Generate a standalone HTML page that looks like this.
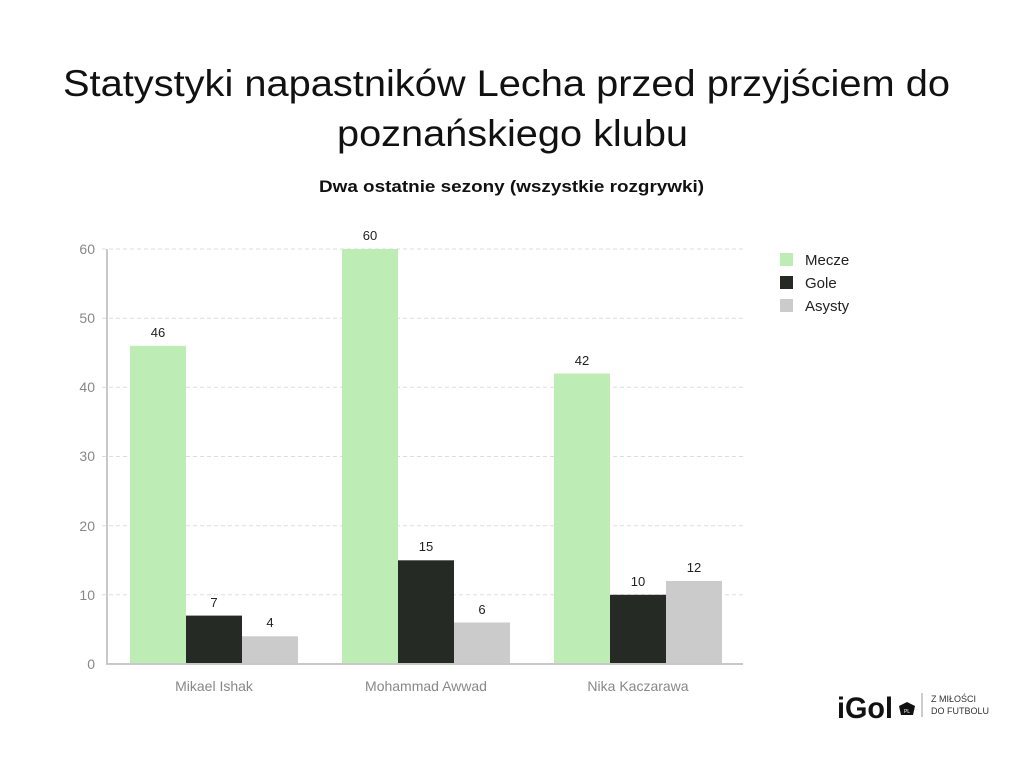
<!DOCTYPE html>
<html><head><meta charset="utf-8"><style>
body{margin:0;background:#fff;width:1024px;height:768px;overflow:hidden;font-family:"Liberation Sans",sans-serif}
</style></head><body>
<svg width="1024" height="768" xmlns="http://www.w3.org/2000/svg" font-family="Liberation Sans, sans-serif">
<text x="63" y="96" font-size="37" fill="#111" textLength="887" lengthAdjust="spacingAndGlyphs">Statystyki napastników Lecha przed przyjściem do</text>
<text x="337" y="146" font-size="37" fill="#111" textLength="351" lengthAdjust="spacingAndGlyphs">poznańskiego klubu</text>
<text x="319" y="192" font-size="17" font-weight="bold" fill="#111" textLength="385" lengthAdjust="spacingAndGlyphs">Dwa ostatnie sezony (wszystkie rozgrywki)</text>
<g stroke="#ddd" stroke-dasharray="4,3">
<line x1="102" x2="743" y1="249" y2="249"/><line x1="102" x2="743" y1="318.2" y2="318.2"/><line x1="102" x2="743" y1="387.3" y2="387.3"/><line x1="102" x2="743" y1="456.5" y2="456.5"/><line x1="102" x2="743" y1="525.7" y2="525.7"/><line x1="102" x2="743" y1="594.8" y2="594.8"/>
</g>
<g fill="#888" font-size="14" text-anchor="end">
<text x="95" y="254">60</text><text x="95" y="323">50</text><text x="95" y="392">40</text><text x="95" y="461">30</text><text x="95" y="531">20</text><text x="95" y="600">10</text><text x="95" y="669">0</text>
</g>
<g fill="#bdedb4"><rect x="130" y="345.8" width="56" height="318.2"/><rect x="342" y="249" width="56" height="415"/><rect x="554" y="373.5" width="56" height="290.5"/></g>
<g fill="#262a25"><rect x="186" y="615.6" width="56" height="48.4"/><rect x="398" y="560.3" width="56" height="103.7"/><rect x="610" y="594.8" width="56" height="69.2"/></g>
<g fill="#cbcbcb"><rect x="242" y="636.3" width="56" height="27.7"/><rect x="454" y="622.5" width="56" height="41.5"/><rect x="666" y="581" width="56" height="83"/></g>
<line x1="107" y1="249" x2="107" y2="665" stroke="#c8c8c8" stroke-width="2"/>
<line x1="106" y1="664" x2="743" y2="664" stroke="#c8c8c8" stroke-width="2"/>
<g font-size="13" fill="#222" text-anchor="middle">
<text x="158" y="337">46</text><text x="214" y="607">7</text><text x="270" y="627">4</text>
<text x="370" y="240">60</text><text x="426" y="551">15</text><text x="482" y="614">6</text>
<text x="582" y="365">42</text><text x="638" y="586">10</text><text x="694" y="572">12</text>
</g>
<g font-size="14" fill="#888" text-anchor="middle">
<text x="214" y="691">Mikael Ishak</text><text x="426" y="691">Mohammad Awwad</text><text x="638" y="691">Nika Kaczarawa</text>
</g>
<rect x="780" y="253" width="13" height="13" fill="#bdedb4"/><text x="805" y="265" font-size="15" fill="#222">Mecze</text>
<rect x="780" y="276" width="13" height="13" fill="#262a25"/><text x="805" y="288" font-size="15" fill="#222">Gole</text>
<rect x="780" y="299" width="13" height="13" fill="#cbcbcb"/><text x="805" y="311" font-size="15" fill="#222">Asysty</text>
<text x="837" y="718" font-size="30" font-weight="bold" fill="#111" textLength="56" lengthAdjust="spacingAndGlyphs">iGol</text>
<path d="M899 706 l8 -4 l8 4 l-2 9 h-12 z" fill="#111"/>
<text x="907" y="713" font-size="5" fill="#fff" text-anchor="middle">PL</text>
<line x1="922" y1="693" x2="922" y2="717" stroke="#999"/>
<text x="931" y="702" font-size="9" fill="#333">Z MIŁOŚCI</text>
<text x="931" y="714" font-size="9" fill="#333">DO FUTBOLU</text>
</svg>
</body></html>
